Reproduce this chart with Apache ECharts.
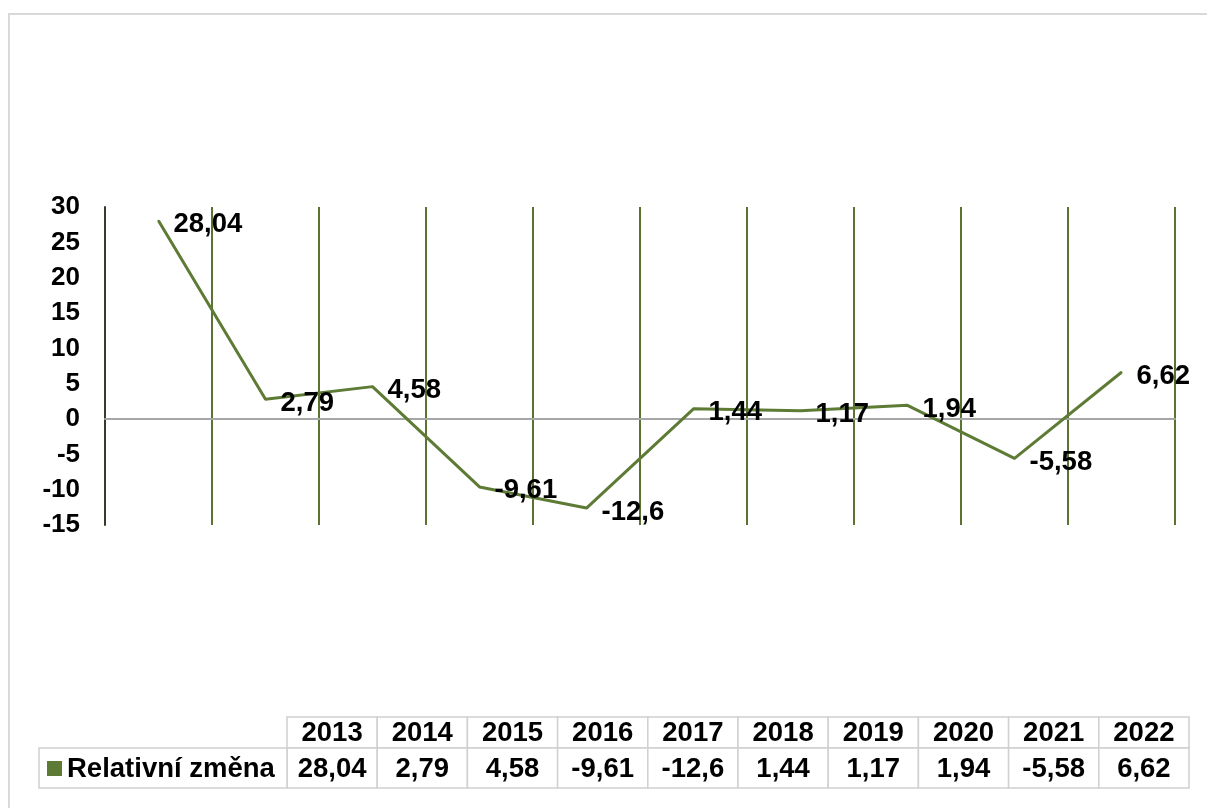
<!DOCTYPE html>
<html>
<head>
<meta charset="utf-8">
<script src="https://cdn.jsdelivr.net/npm/echarts@6/dist/echarts.min.js"></script>
<style>
html,body{margin:0;padding:0;background:#fff;}
#chart{width:1207px;height:808px;}
</style>
</head>
<body>
<div id="chart"></div>
<script>
const categories = ['2013','2014','2015','2016','2017','2018','2019','2020','2021','2022'];
const values = [28.04, 2.79, 4.58, -9.61, -12.6, 1.44, 1.17, 1.94, -5.58, 6.62];
const seriesName = 'Relativní změna';
const yMin = -15, yMax = 30, yStep = 5;

const FONT = '"Liberation Sans", Arial, sans-serif';
const fmt = v => String(v).replace('.', ',');

const chart = echarts.init(document.getElementById('chart'), null, {renderer: 'canvas'});

// data table built from the arrays
const tbl = {x0: 287, colW: 90.2, y0: 717, hRow: 31, dRow: 40, legX: 39};
const border = '#d0d0d0';
const TFONT = 'bold 27.5px ' + FONT;
const graphics = [];
// outer chart border
graphics.push({type: 'rect', shape: {x: 9, y: 14, width: 1210, height: 810}, style: {fill: 'none', stroke: '#d9d9d9', lineWidth: 2}, silent: true});
categories.forEach((c, i) => {
  const x = tbl.x0 + tbl.colW * i;
  graphics.push({type: 'rect', shape: {x: x, y: tbl.y0, width: tbl.colW, height: tbl.hRow}, style: {fill: '#fff', stroke: border, lineWidth: 1.5}});
  graphics.push({type: 'rect', shape: {x: x, y: tbl.y0 + tbl.hRow, width: tbl.colW, height: tbl.dRow}, style: {fill: '#fff', stroke: border, lineWidth: 1.5}});
  graphics.push({type: 'text', x: x + tbl.colW / 2, y: tbl.y0 + tbl.hRow / 2 + 1, style: {text: c, fill: '#000', font: TFONT, align: 'center', verticalAlign: 'middle'}});
  graphics.push({type: 'text', x: x + tbl.colW / 2, y: tbl.y0 + tbl.hRow + tbl.dRow / 2 + 1, style: {text: fmt(values[i]), fill: '#000', font: TFONT, align: 'center', verticalAlign: 'middle'}});
});
// legend cell
graphics.push({type: 'rect', shape: {x: tbl.legX, y: tbl.y0 + tbl.hRow, width: tbl.x0 - tbl.legX, height: tbl.dRow}, style: {fill: '#fff', stroke: border, lineWidth: 1.5}});
graphics.push({type: 'rect', shape: {x: 47, y: tbl.y0 + tbl.hRow + 13, width: 15, height: 15}, style: {fill: '#5e7b36'}});
graphics.push({type: 'text', x: 67, y: tbl.y0 + tbl.hRow + tbl.dRow / 2 + 1, style: {text: seriesName, fill: '#000', font: TFONT, align: 'left', verticalAlign: 'middle'}});

chart.setOption({
  animation: false,
  backgroundColor: '#fff',
  grid: {left: 105, top: 207, width: 1070, height: 318},
  xAxis: {
    type: 'category',
    data: categories,
    boundaryGap: true,
    axisLabel: {show: false},
    axisTick: {show: false},
    axisLine: {show: true, onZero: true, lineStyle: {color: '#a6a6a6', width: 2}},
    splitLine: {show: true, lineStyle: {color: '#5b7232', width: 2}}
  },
  yAxis: {
    type: 'value',
    min: yMin, max: yMax, interval: yStep,
    axisLine: {show: true, lineStyle: {color: '#363b28', width: 2}},
    axisTick: {show: false},
    splitLine: {show: false},
    axisLabel: {color: '#000', fontSize: 26, fontWeight: 'bold', fontFamily: FONT, margin: 25}
  },
  series: [{
    name: seriesName,
    type: 'line',
    data: values,
    symbol: 'circle',
    symbolSize: 2,
    showSymbol: true,
    itemStyle: {color: '#5e7b36'},
    lineStyle: {color: '#5e7b36', width: 3},
    label: {
      show: true, position: [16, 5], align: 'left', verticalAlign: 'middle',
      color: '#000', fontSize: 27.5, fontWeight: 'bold', fontFamily: FONT,
      formatter: function (p) { return fmt(p.value); }
    },
    labelLayout: {hideOverlap: false},
    z: 3
  }],
  graphic: graphics
});
</script>
</body>
</html>
